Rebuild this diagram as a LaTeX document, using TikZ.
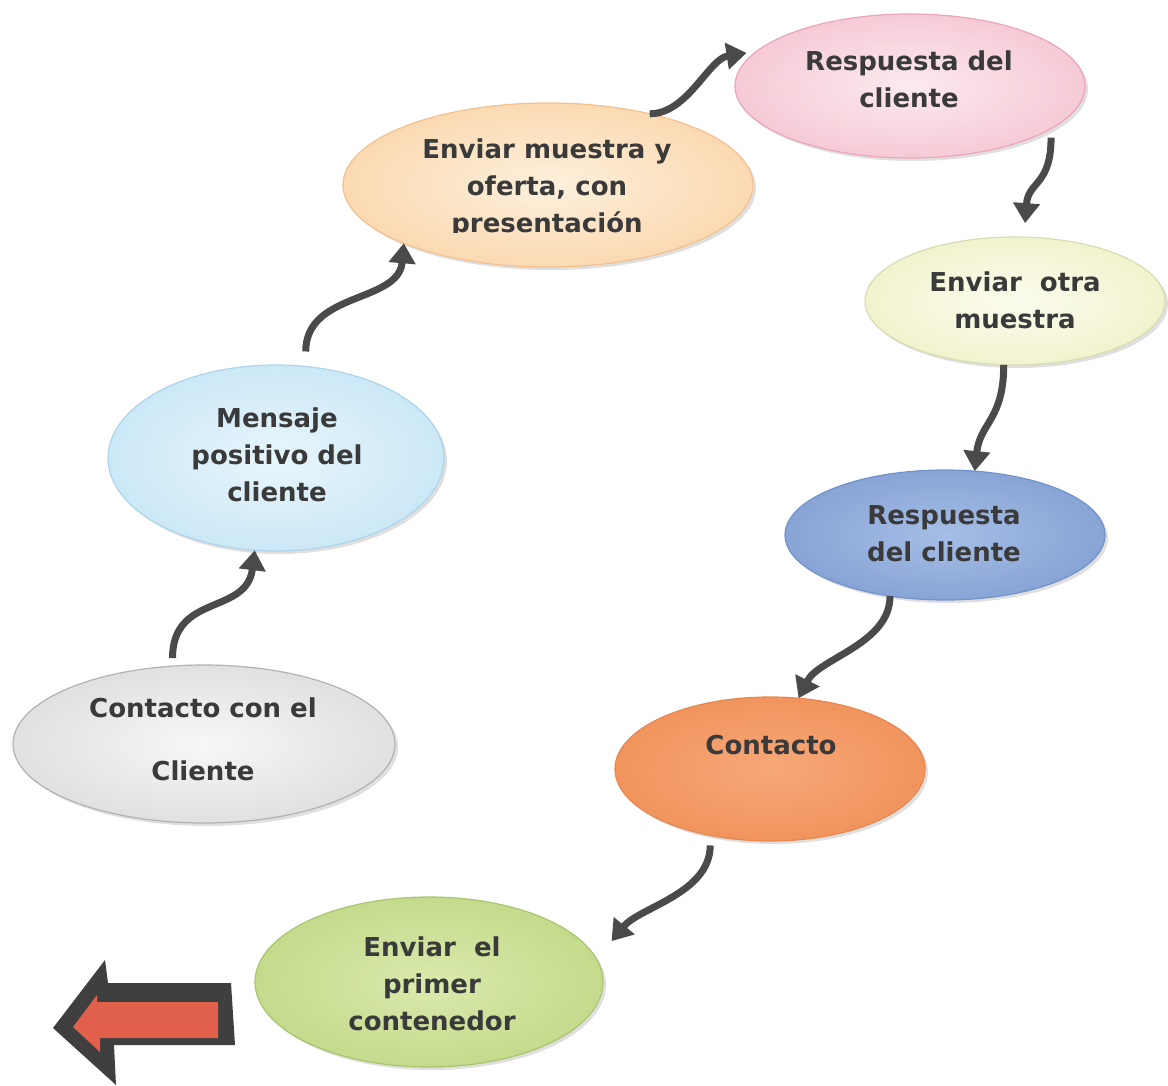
\documentclass[tikz,border=0pt]{standalone}
\usepackage{fontspec}
\setmainfont{DejaVu Sans}
\usetikzlibrary{arrows.meta,shapes.geometric,shadows}

\definecolor{txt}{HTML}{3A3A3A}
\definecolor{arr}{HTML}{4A4A4A}
\definecolor{bigarr}{HTML}{3F3F3F}
\definecolor{bigred}{HTML}{E0604C}

\tikzset{
  bubble/.style={ellipse, inner sep=0pt, outer sep=0pt, line width=0.6pt,
    drop shadow={opacity=0.25, shadow xshift=1.5pt, shadow yshift=-1.5pt}},
  gris/.style={bubble, inner color=gray!6, outer color=gray!24, draw=gray!60},
  celeste/.style={bubble, inner color={rgb,255:red,232;green,246;blue,252}, outer color={rgb,255:red,204;green,232;blue,247}, draw={rgb,255:red,172;green,212;blue,236}},
  melocoton/.style={bubble, inner color={rgb,255:red,253;green,240;blue,220}, outer color={rgb,255:red,251;green,218;blue,178}, draw={rgb,255:red,243;green,192;blue,142}},
  rosa/.style={bubble, inner color={rgb,255:red,252;green,234;blue,238}, outer color={rgb,255:red,246;green,202;blue,214}, draw={rgb,255:red,234;green,166;blue,184}},
  crema/.style={bubble, inner color={rgb,255:red,252;green,252;blue,238}, outer color={rgb,255:red,241;green,243;blue,206}, draw={rgb,255:red,216;green,220;blue,176}},
  azul/.style={bubble, inner color={rgb,255:red,166;green,190;blue,230}, outer color={rgb,255:red,136;green,164;blue,214}, draw={rgb,255:red,114;green,146;blue,204}},
  naranja/.style={bubble, inner color={rgb,255:red,247;green,168;blue,120}, outer color={rgb,255:red,241;green,148;blue,94}, draw={rgb,255:red,232;green,136;blue,80}},
  verde/.style={bubble, inner color={rgb,255:red,218;green,234;blue,172}, outer color={rgb,255:red,196;green,218;blue,140}, draw={rgb,255:red,168;green,198;blue,112}},
  lbl/.style={align=center, text=txt, inner sep=0pt,
    font=\bfseries\fontsize{13}{18.5}\selectfont},
  flow/.style={draw=arr, line width=3.5pt,
    -{Triangle[length=10pt,width=13pt]}},
}

\begin{document}
\begin{tikzpicture}[x=0.5pt,y=-0.5pt]
\useasboundingbox (0,0) rectangle (1168,1086);

% process steps
\node[gris,      minimum width=191pt, minimum height=79pt] (n1) at (204,744) {};
\node[celeste,   minimum width=168pt, minimum height=93pt] (n2) at (276,458) {};
\node[melocoton, minimum width=205pt, minimum height=82pt] (n3) at (548,185) {};
\node[rosa,      minimum width=175pt, minimum height=72pt] (n4) at (910,86)  {};
\node[crema,     minimum width=150pt, minimum height=64pt] (n5) at (1015,301) {};
\node[azul,      minimum width=160pt, minimum height=65pt] (n6) at (945,535) {};
\node[naranja,   minimum width=155pt, minimum height=72pt] (n7) at (770,769) {};
\node[verde,     minimum width=174pt, minimum height=85pt] (n8) at (429,982) {};

% step captions
\node[lbl] (t1) at (203,739) {Contacto con el\\[13pt]Cliente};
\node[lbl] (t2) at (277,455) {Mensaje\\positivo del\\cliente};
\begin{scope}
  \clip (340,100) rectangle (760,232);
  \node[lbl] (t3) at (547,188) {Enviar muestra y\\oferta, con\\presentación};
\end{scope}
\node[lbl] (t4) at (909,79)  {Respuesta del\\cliente};
\node[lbl] (t5) at (1015,300) {Enviar\ \ otra\\muestra};
\node[lbl] (t6) at (944,534) {Respuesta\\del cliente};
\node[lbl] (t7) at (771,745) {Contacto};
\node[lbl] (t8) at (432,984) {Enviar\ \ el\\primer\\contenedor};

% connectors
\draw[flow] ([yshift=4pt]n1.112) .. controls +(0,-65) and +(-8,65) .. (n2.257);
\draw[flow] ([yshift=7.5pt]n2.72) .. controls +(0,-60) and +(-5,60) .. (n3.202);
\draw[flow] (n3.35) .. controls +(38,0) and +(-38,6) .. ([xshift=-4pt]n4.168);
\draw[flow] ([xshift=5pt,yshift=-2pt]n4.340) .. controls +(0,48) and +(3,-42) .. ([yshift=7pt]n5.81);
\draw[flow] (n5.260) .. controls +(0,55) and +(5,-48) .. (n6.65);
\draw[flow] (n6.228) .. controls +(0,48) and +(20,-40) .. (n7.68);
\draw[flow] ([yshift=-5pt]n7.228) .. controls +(0,48) and +(28,-34) .. ([xshift=15pt]n8.15);

% outgoing block arrow
\fill[bigarr] (53,1028) -- (105,960) -- (108,983) -- (231,983) -- (235,1045)
  -- (114,1045) -- (116,1085) -- cycle;
\fill[bigred] (73,1027) -- (97,995) -- (97,1002) -- (218,1002) -- (218,1038)
  -- (100,1038) -- (100,1052) -- cycle;
\end{tikzpicture}
\end{document}
